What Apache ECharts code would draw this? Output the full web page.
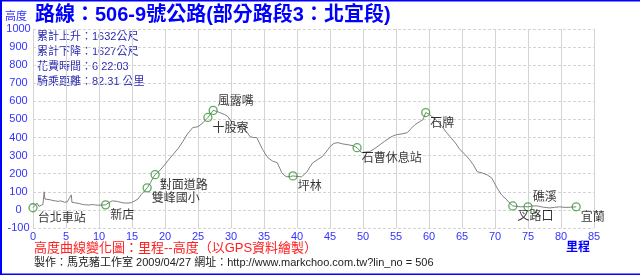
<!DOCTYPE html>
<html>
<head>
<meta charset="utf-8">
<script src="https://cdn.jsdelivr.net/npm/echarts@6/dist/echarts.min.js"></script>
<style>
html,body{margin:0;padding:0;background:#fff;}
#c{width:640px;height:275px;}
</style>
</head>
<body>
<div id="c"></div>
<script>
// Elevation profile (km, metres)
const profileKm = [0,0.3,0.6,0.9,1.1,1.5,1.7,1.8,2.1,2.6,3.0,3.4,3.8,4.2,4.5,4.8,5.2,5.5,5.8,5.9,6.3,6.6,7.0,7.5,8.0,8.5,9.0,9.5,10.0,10.6,11.0,11.5,12.0,12.3,12.8,13.3,13.8,14.4,14.9,15.4,15.9,16.4,16.9,17.3,17.8,18.2,18.5,19.0,19.7,20.5,21.2,22.0,22.7,23.4,24.2,25.0,25.8,26.5,27.0,27.3,27.8,28.3,29.0,29.5,30.0,30.2,31.0,31.8,32.4,32.9,33.4,33.9,34.3,34.8,35.2,35.6,36.3,37.0,37.4,37.7,38.1,38.5,39.0,39.4,40.0,40.7,41.5,42.0,42.4,43.0,43.8,44.4,45.0,45.6,46.2,46.9,47.6,48.5,49.1,49.8,50.4,51.0,51.8,52.6,53.3,54.1,54.6,55.1,55.9,56.7,57.3,57.9,58.6,59.1,59.5,60.0,60.6,61.3,62.0,62.6,63.2,64.0,64.7,65.5,66.1,66.7,67.3,68.0,68.8,69.5,69.9,70.3,71.0,71.8,72.3,72.7,73.3,73.8,74.4,75.0,75.7,76.4,77.3,78.3,79.0,79.8,80.6,81.5,82.3];
const profileElev = [12,25,38,20,17,30,100,60,55,56,52,50,47,50,46,42,45,40,83,42,40,30,35,30,28,27,30,27,26,27,28,40,50,55,47,42,38,38,40,50,60,85,105,122,150,178,195,210,238,275,305,340,378,420,455,460,483,511,535,550,545,538,528,517,490,472,465,455,430,405,400,400,370,333,310,288,270,261,230,205,190,183,185,188,185,183,210,240,261,275,294,320,350,368,372,365,361,355,344,316,320,322,340,361,380,400,410,416,420,427,450,472,488,500,538,530,511,490,461,430,405,370,333,305,280,250,211,205,194,177,150,122,83,55,35,22,20,17,18,17,22,22,15,11,14,17,14,15,17];

// Waypoints
const wpNames = ['台北車站','新店','雙峰國小','對面道路','十股寮','風露嘴','坪林','石曹休息站','石牌','叉路口','礁溪','宜蘭'];
const wpKm    = [0, 11.0, 17.3, 18.5, 26.5, 27.3, 39.4, 49.1, 59.5, 72.7, 75.0, 82.3];
const wpElev  = [12, 28, 122, 195, 511, 550, 188, 344, 538, 22, 17, 17];

// Summary lines
const statLines = ['累計上升：1632公尺','累計下降：1627公尺','花費時間：6:22:03','騎乘距離：82.31 公里'];

// Axis ranges
const xMin = 0, xMax = 85, xStep = 5;
const yMin = -100, yMax = 1000, yStep = 100;

const aboveLabels = {'風露嘴':true,'礁溪':true};

const chart = echarts.init(document.getElementById('c'), null, {renderer:'canvas'});
const lineData = profileKm.map((k,i)=>[k, profileElev[i]]);
const wpData = wpNames.map((n,i)=>({
  name:n, value:[wpKm[i], wpElev[i]],
  label:{offset:[0, aboveLabels[n] ? -10 : 10]}
}));
const cjk = '"Noto Sans CJK TC","Noto Sans CJK SC",sans-serif';
const mix = '"Liberation Sans","Noto Sans CJK TC","Noto Sans CJK SC",sans-serif';
const axisBlue = '#3333ff';
chart.setOption({
  animation:false,
  backgroundColor:'#fff',
  grid:{left:33, right:46, top:29, bottom:47, containLabel:false},
  xAxis:{
    type:'value', min:xMin, max:xMax, interval:xStep,
    axisLine:{show:false}, axisTick:{show:false},
    axisLabel:{color:axisBlue, fontSize:11, fontFamily:'Liberation Sans, Arial', margin:3,
               formatter:v=>String(v)},
    splitLine:{show:true, lineStyle:{color:'#d4d4d4', width:1, type:'solid'}}
  },
  yAxis:{
    type:'value', min:yMin, max:yMax, interval:yStep,
    axisLine:{show:false}, axisTick:{show:false},
    axisLabel:{color:axisBlue, fontSize:11, fontFamily:'Liberation Sans, Arial', margin:14.5, align:'center',
               formatter:v=>String(v)},
    splitLine:{show:true, lineStyle:{color:'#d4d4d4', width:1, type:[3,2]}}
  },
  series:[
    {type:'line', data:lineData, showSymbol:false, symbol:'none',
     lineStyle:{color:'#808080', width:1}, z:2},
    {type:'scatter', data:wpData, symbol:'circle', symbolSize:8,
     itemStyle:{color:'rgba(255,255,255,0)', borderColor:'#2f9a2f', borderWidth:1.3},
     label:{show:true, position:'right', distance:0, formatter:'{b}', color:'#000',
            fontSize:12, fontFamily:cjk},
     z:3}
  ],
  graphic:[
    {type:'rect', shape:{x:0,y:0,width:640,height:1.5}, style:{fill:'#0000ff'}},
    {type:'rect', shape:{x:0,y:273.5,width:640,height:1.5}, style:{fill:'#0000ff'}},
    {type:'rect', shape:{x:0,y:0,width:2,height:275}, style:{fill:'#0000ff'}},
    {type:'text', left:5, top:10, style:{text:'高度', fill:axisBlue, font:'11px '+cjk}},
    {type:'text', left:35, top:5, style:{text:'路線：506-9號公路(部分路段3：北宜段)', fill:'#0000ff', font:'bold 20px '+mix}},
    {type:'text', left:37, top:29, style:{text:statLines.join('\n'), fill:'#2b2bb0', font:'11px '+mix, lineHeight:15}},
    {type:'text', left:566, top:240, style:{text:'里程', fill:'#0000ff', font:'bold 12px '+cjk}},
    {type:'text', left:34, top:242, style:{text:'高度曲線變化圖：里程--高度（以GPS資料繪製）', fill:'#ff2020', font:'13px '+mix}},
    {type:'text', left:34, top:257, style:{text:'製作：馬克豬工作室 2009/04/27 網址：http://www.markchoo.com.tw?lin_no = 506', fill:'#222', font:'11px '+mix}}
  ]
});
</script>
</body>
</html>
